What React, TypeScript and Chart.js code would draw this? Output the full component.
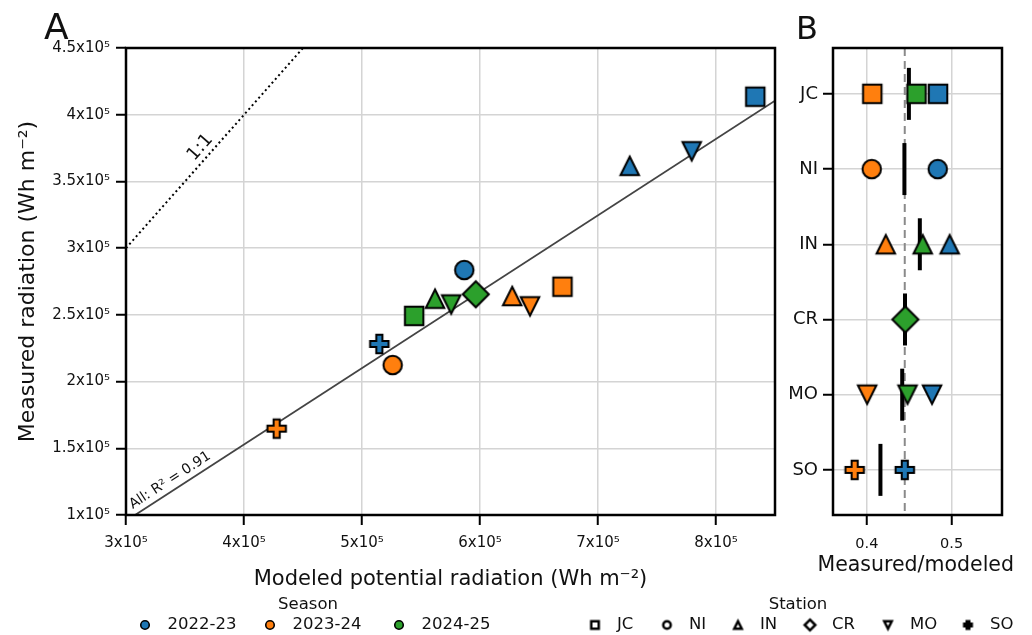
import React, { useEffect, useRef } from 'react';
import { Chart, registerables } from 'chart.js';

Chart.register(...registerables);

// ---------- data ----------
const SEASONS = ['2022-23', '2023-24', '2024-25'];
const SEASON_COLORS = ['#1f77b4', '#ff7f0e', '#2ca02c'];
const STATIONS = ['JC', 'NI', 'IN', 'CR', 'MO', 'SO'];
const STATION_SHAPES = ['square', 'circle', 'triangle', 'diamond', 'down', 'plus'];

// Panel A: modeled potential radiation (x) and measured radiation (y), by station
const MODELED_2022_23 = [8.333e5, 5.867e5, 7.269e5, null, 7.794e5, 5.147e5];
const MEASURED_2022_23 = [4.135e5, 2.836e5, 3.617e5, null, 3.726e5, 2.282e5];
const MODELED_2023_24 = [6.699e5, 5.26e5, 6.273e5, null, 6.424e5, 4.277e5];
const MEASURED_2023_24 = [2.711e5, 2.124e5, 2.641e5, null, 2.564e5, 1.647e5];
const MODELED_2024_25 = [5.442e5, null, 5.619e5, 5.964e5, 5.756e5, null];
const MEASURED_2024_25 = [2.492e5, null, 2.621e5, 2.654e5, 2.578e5, null];

const FIT_SLOPE = 0.5726;
const FIT_INTERCEPT = -76200;
const FIT_R2 = 0.91;

// Panel B: measured / modeled ratio, by station
const RATIO_2022_23 = [0.484, 0.4836, 0.4977, null, 0.4769, 0.4447];
const RATIO_2023_24 = [0.4064, 0.4057, 0.4223, null, 0.4003, 0.3856];
const RATIO_2024_25 = [0.4586, null, 0.4659, 0.4454, 0.448, null];
const STATION_MEAN_RATIO = [0.4496, 0.4443, 0.4625, 0.445, 0.4417, 0.416];
const OVERALL_RATIO = 0.4447;

// axes and ticks
const A_X_MIN = 3e5, A_X_MAX = 8.5e5;
const A_Y_MIN = 1e5, A_Y_MAX = 4.5e5;
const A_X_TICKS = [3e5, 4e5, 5e5, 6e5, 7e5, 8e5];
const A_Y_TICKS = [1e5, 1.5e5, 2e5, 2.5e5, 3e5, 3.5e5, 4e5, 4.5e5];
const B_X_MIN = 0.36, B_X_MAX = 0.5595;
const B_X_TICKS = [0.4, 0.5];
const B_Y_MIN = -0.61, B_Y_MAX = 5.6;

const MODELED = [MODELED_2022_23, MODELED_2023_24, MODELED_2024_25];
const MEASURED = [MEASURED_2022_23, MEASURED_2023_24, MEASURED_2024_25];
const RATIO = [RATIO_2022_23, RATIO_2023_24, RATIO_2024_25];

const FONT = '"DejaVu Sans", sans-serif';
const TXT = '#111';
const sciLabel = (v: number) => `${+(v / 1e5).toFixed(1)}x10⁵`;
const setTicks = (vals: number[]) => (s: any) => {
  s.ticks = vals.map((value) => ({ value }));
};

function makeMarker(shape: string, fill: string, S: number, lw: number): HTMLCanvasElement {
  const dim = Math.ceil(S * 1.5 + lw * 2 + 6);
  const c = document.createElement('canvas');
  c.width = dim;
  c.height = dim;
  const ctx = c.getContext('2d')!;
  const cx = dim / 2, cy = dim / 2, h = S / 2;
  ctx.beginPath();
  if (shape === 'square') ctx.rect(cx - h, cy - h, S, S);
  else if (shape === 'circle') ctx.arc(cx, cy, h, 0, Math.PI * 2);
  else if (shape === 'triangle') {
    ctx.moveTo(cx, cy - h); ctx.lineTo(cx + h, cy + h); ctx.lineTo(cx - h, cy + h); ctx.closePath();
  } else if (shape === 'down') {
    ctx.moveTo(cx, cy + h); ctx.lineTo(cx - h, cy - h); ctx.lineTo(cx + h, cy - h); ctx.closePath();
  } else if (shape === 'diamond') {
    const d = h * Math.SQRT2;
    ctx.moveTo(cx, cy - d); ctx.lineTo(cx + d, cy); ctx.lineTo(cx, cy + d); ctx.lineTo(cx - d, cy); ctx.closePath();
  } else if (shape === 'plus') {
    const t = S / 6;
    const pts = [[-t, -h], [t, -h], [t, -t], [h, -t], [h, t], [t, t], [t, h], [-t, h], [-t, t], [-h, t], [-h, -t], [-t, -t]];
    pts.forEach(([px, py], i) => (i === 0 ? ctx.moveTo(cx + px, cy + py) : ctx.lineTo(cx + px, cy + py)));
    ctx.closePath();
  }
  ctx.fillStyle = fill;
  ctx.fill();
  ctx.lineWidth = lw;
  ctx.lineJoin = 'miter';
  ctx.strokeStyle = '#000';
  ctx.stroke();
  return c;
}

function boxPlugin(id: string) {
  return {
    id,
    afterDraw(chart: any) {
      const { ctx, chartArea: a } = chart;
      ctx.save();
      ctx.lineWidth = 2.5;
      ctx.strokeStyle = '#000';
      ctx.strokeRect(a.left, a.top, a.right - a.left, a.bottom - a.top);
      ctx.restore();
    },
  };
}

export default function App() {
  const refA = useRef<HTMLCanvasElement>(null);
  const refB = useRef<HTMLCanvasElement>(null);

  useEffect(() => {
    document.body.style.margin = '0';
    Chart.defaults.font.family = FONT;
    Chart.defaults.color = TXT;

    const MS = 18.5;
    const markers = SEASON_COLORS.map((col) => STATION_SHAPES.map((sh) => makeMarker(sh, col, MS, 2)));
    const legendSeason = SEASON_COLORS.map((col) => makeMarker('circle', col, 8.5, 1.6));
    const legendStation = STATION_SHAPES.map((sh) => makeMarker(sh, '#fff', 7.5, 2.5));

    const styleFn = (s: number) => (c: any) => (c.raw ? markers[s][c.raw.st] : markers[s][0]);

    const gridOpts = { color: '#d4d4d4', lineWidth: 1.5, tickColor: '#000', tickLength: 10, tickWidth: 2 };

    // ---------- Panel A ----------
    const seasonA = SEASONS.map((name, s) => ({
      label: name,
      order: 2 - s,
      data: STATIONS.map((_, i) => ({ x: MODELED[s][i], y: MEASURED[s][i], st: i })).filter(
        (p) => p.x != null && p.y != null
      ),
      pointStyle: styleFn(s),
      pointRadius: 10,
    }));

    const fitLine = {
      label: 'fit',
      order: 10,
      showLine: true,
      pointRadius: 0,
      borderColor: '#444',
      borderWidth: 1.8,
      data: [A_X_MIN, A_X_MAX].map((x) => ({ x, y: FIT_SLOPE * x + FIT_INTERCEPT })),
    };
    const oneToOne = {
      label: '1:1',
      order: 11,
      showLine: true,
      pointRadius: 0,
      borderColor: '#000',
      borderWidth: 2,
      borderDash: [2, 3],
      data: [A_X_MIN, A_Y_MAX].map((v) => ({ x: v, y: v })),
    };

    const annotA = {
      id: 'annotA',
      afterDatasetsDraw(chart: any) {
        const { ctx, scales } = chart;
        const X = scales.x, Y = scales.y;
        const label = (txt: string, size: number, x0: number, y0: number, x1: number, y1: number, xc: number, yc: number, off: number) => {
          const p0 = { x: X.getPixelForValue(x0), y: Y.getPixelForValue(y0) };
          const p1 = { x: X.getPixelForValue(x1), y: Y.getPixelForValue(y1) };
          const ang = Math.atan2(p1.y - p0.y, p1.x - p0.x);
          const dx = Math.cos(ang), dy = Math.sin(ang);
          const nx = dy, ny = -dx;
          const px = X.getPixelForValue(xc) + nx * off;
          const py = Y.getPixelForValue(yc) + ny * off;
          ctx.save();
          ctx.translate(px, py);
          ctx.rotate(ang);
          ctx.font = `${size}px ${FONT}`;
          ctx.fillStyle = TXT;
          ctx.textAlign = 'center';
          ctx.textBaseline = 'middle';
          ctx.fillText(txt, 0, 0);
          ctx.restore();
        };
        label('1:1', 18, 3.3e5, 3.3e5, 4.2e5, 4.2e5, 3.7e5, 3.7e5, 11);
        const xr = 3.42e5;
        label(`All: R² = ${FIT_R2}`, 14, 3.2e5, FIT_SLOPE * 3.2e5 + FIT_INTERCEPT, 4e5, FIT_SLOPE * 4e5 + FIT_INTERCEPT, xr, FIT_SLOPE * xr + FIT_INTERCEPT, 10);
      },
      afterDraw(chart: any) {
        const { ctx } = chart;
        ctx.save();
        ctx.fillStyle = TXT;
        ctx.font = `36px ${FONT}`;
        ctx.textAlign = 'left';
        ctx.textBaseline = 'alphabetic';
        ctx.fillText('A', 44, 39);
        // legend
        ctx.font = `16.5px ${FONT}`;
        ctx.textAlign = 'center';
        ctx.textBaseline = 'middle';
        ctx.fillText('Season', 308, 605);
        ctx.fillText('Station', 798, 605);
        ctx.textAlign = 'left';
        const sx = [145, 270, 399];
        SEASONS.forEach((name, s) => {
          const m = legendSeason[s];
          ctx.drawImage(m, sx[s] - m.width / 2, 625 - m.height / 2);
          ctx.fillText(name, sx[s] + 22.5, 625);
        });
        const tx = [595, 667, 738, 810, 888, 968];
        STATIONS.forEach((name, i) => {
          const m = legendStation[i];
          ctx.drawImage(m, tx[i] - m.width / 2, 625 - m.height / 2);
          ctx.fillText(name, tx[i] + 22, 625);
        });
        ctx.restore();
      },
    };

    const chartA = new Chart(refA.current!, {
      type: 'scatter',
      data: { datasets: [...seasonA, fitLine, oneToOne] as any },
      options: {
        responsive: false,
        animation: false,
        events: [],
        layout: { padding: { left: 0, right: 257, top: 48, bottom: 40 } },
        plugins: { legend: { display: false }, tooltip: { enabled: false } },
        scales: {
          x: {
            type: 'linear',
            min: A_X_MIN,
            max: A_X_MAX,
            afterBuildTicks: setTicks(A_X_TICKS),
            afterFit: (s: any) => { s.height = 80; },
            border: { display: false },
            grid: gridOpts,
            ticks: { padding: 9, maxRotation: 0, autoSkip: false, font: { size: 15 }, color: TXT, callback: (v: any) => sciLabel(v) },
            title: { display: true, text: 'Modeled potential radiation (Wh m⁻²)', font: { size: 21 }, color: TXT, padding: { top: 0, bottom: 3 } },
          },
          y: {
            type: 'linear',
            min: A_Y_MIN,
            max: A_Y_MAX,
            afterBuildTicks: setTicks(A_Y_TICKS),
            afterFit: (s: any) => { s.width = 126; },
            border: { display: false },
            grid: gridOpts,
            ticks: { padding: 6, autoSkip: false, font: { size: 15 }, color: TXT, callback: (v: any) => sciLabel(v) },
            title: { display: true, text: 'Measured radiation (Wh m⁻²)', font: { size: 22 }, color: TXT, padding: { top: 15, bottom: 0 } },
          },
        },
      } as any,
      plugins: [annotA, boxPlugin('boxA')],
    });

    // ---------- Panel B ----------
    const seasonB = SEASONS.map((name, s) => ({
      label: name,
      order: 2 - s,
      data: STATIONS.map((_, i) => ({ x: RATIO[s][i], y: i, st: i })).filter((p) => p.x != null),
      pointStyle: styleFn(s),
      pointRadius: 10,
    }));
    const meanBars = {
      label: 'station mean',
      order: 5,
      data: STATIONS.map((_, i) => ({ x: STATION_MEAN_RATIO[i], y: i })),
      pointStyle: 'line',
      pointRotation: 90,
      pointRadius: 26,
      pointBorderWidth: 4,
      pointBorderColor: '#000',
      borderColor: '#000',
    };
    const overall = {
      label: 'overall',
      order: 10,
      showLine: true,
      pointRadius: 0,
      borderColor: '#8a8a8a',
      borderWidth: 2,
      borderDash: [8, 5],
      data: [B_Y_MIN, B_Y_MAX].map((y) => ({ x: OVERALL_RATIO, y })),
    };
    const labelB = {
      id: 'labelB',
      afterDraw(chart: any) {
        const { ctx, chartArea: a } = chart;
        ctx.save();
        ctx.fillStyle = TXT;
        ctx.font = `32px ${FONT}`;
        ctx.textAlign = 'left';
        ctx.textBaseline = 'alphabetic';
        ctx.fillText('B', 16, 39);
        // x-axis title (wider than the plot area, so drawn without width limit)
        ctx.font = `20.5px ${FONT}`;
        ctx.textAlign = 'center';
        ctx.textBaseline = 'middle';
        ctx.fillText('Measured/modeled', (a.left + a.right) / 2 - 1.8, 566);
        ctx.restore();
      },
    };

    const chartB = new Chart(refB.current!, {
      type: 'scatter',
      data: { datasets: [...seasonB, meanBars, overall] as any },
      options: {
        responsive: false,
        animation: false,
        events: [],
        layout: { padding: { left: 0, right: 24, top: 48, bottom: 50 } },
        plugins: { legend: { display: false }, tooltip: { enabled: false } },
        scales: {
          x: {
            type: 'linear',
            min: B_X_MIN,
            max: B_X_MAX,
            afterBuildTicks: setTicks(B_X_TICKS),
            afterFit: (s: any) => { s.height = 70; },
            border: { display: false },
            grid: gridOpts,
            ticks: { padding: 11, maxRotation: 0, font: { size: 14.5 }, color: TXT },
            title: { display: false },
          },
          y: {
            type: 'linear',
            reverse: true,
            min: B_Y_MIN,
            max: B_Y_MAX,
            afterBuildTicks: setTicks(STATIONS.map((_, i) => i)),
            afterFit: (s: any) => { s.width = 53; },
            border: { display: false },
            grid: gridOpts,
            ticks: { padding: 5, autoSkip: false, font: { size: 18 }, color: TXT, callback: (v: any) => STATIONS[v] ?? '' },
          },
        },
      } as any,
      plugins: [labelB, boxPlugin('boxB')],
    });

    return () => {
      chartA.destroy();
      chartB.destroy();
    };
  }, []);

  return (
    <div style={{ position: 'relative', width: 1032, height: 635, background: '#fff' }}>
      <canvas ref={refA} width={1032} height={635} style={{ position: 'absolute', left: 0, top: 0, width: 1032, height: 635 }} />
      <canvas ref={refB} width={252} height={635} style={{ position: 'absolute', left: 780, top: 0, width: 252, height: 635 }} />
    </div>
  );
}
